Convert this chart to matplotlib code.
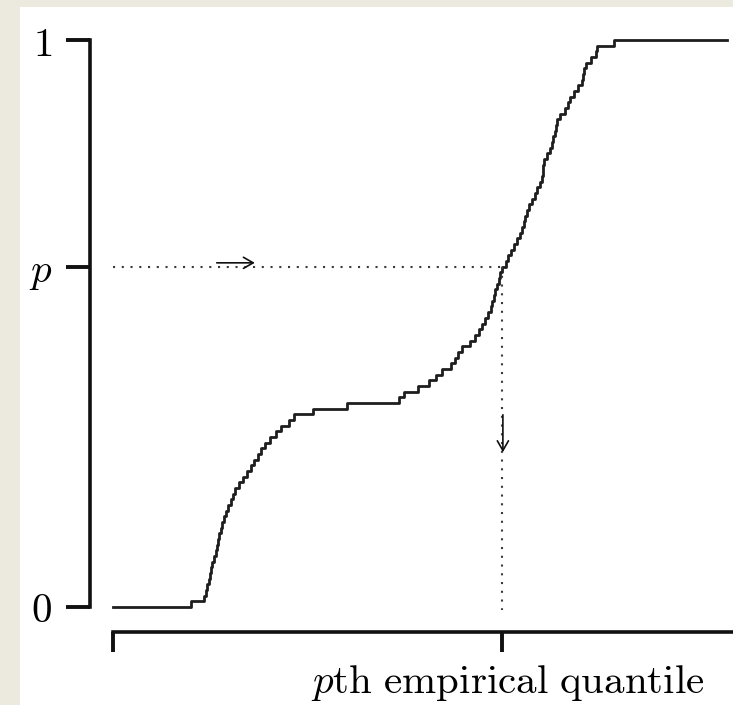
import numpy as np
import matplotlib
matplotlib.use("Agg")
import matplotlib.pyplot as plt
from matplotlib.patches import Rectangle

plt.rcParams["mathtext.fontset"] = "cm"

# Observed sample (arbitrary units, 0-100 scale)
sample = [
    12.7, 14.8, 15.1, 15.3, 15.6, 15.8, 16.0, 16.2, 16.4, 16.7,
    16.9, 17.1, 17.3, 17.6, 17.8, 18.1, 18.4, 18.8, 19.2, 19.5,
    19.9, 20.5, 21.2, 21.8, 22.5, 23.0, 23.6, 24.1, 24.8, 25.6,
    26.5, 27.4, 28.7, 29.5, 32.6, 38.1, 46.6, 47.4, 49.7, 51.5,
    52.6, 53.6, 55.0, 55.7, 56.2, 56.8, 58.1, 59.0, 59.6, 60.1,
    60.6, 61.1, 61.6, 61.8, 62.1, 62.2, 62.5, 62.9, 63.1, 63.4,
    64.0, 64.3, 64.8, 65.3, 65.8, 66.3, 66.6, 66.9, 67.1, 67.4,
    67.8, 68.2, 68.7, 69.1, 69.5, 69.9, 70.0, 70.1, 70.2, 70.7,
    71.2, 71.5, 71.7, 72.0, 72.1, 72.3, 72.8, 73.6, 74.1, 74.4,
    75.1, 75.7, 76.4, 76.5, 76.7, 77.0, 77.9, 78.7, 78.8, 81.6,
]
x_range = [0.0, 100.0]
p_level = 0.6
y_tick_labels = ["$0$", "$p$", "$1$"]
x_label = r"$p\mathrm{th\ empirical\ quantile}$"

# Empirical CDF
xs = np.sort(np.asarray(sample))
n = len(xs)
fx = np.arange(1, n + 1) / n
step_x = np.concatenate([[x_range[0]], xs, [x_range[1]]])
step_y = np.concatenate([[0.0], fx, [1.0]])
quantile = xs[int(np.ceil(p_level * n)) - 1]

W, H = 733, 705
fig = plt.figure(figsize=(W / 100, H / 100), dpi=100)
fig.patch.set_facecolor("#ECE9DF")
fig.add_artist(Rectangle((20 / W, 0), (W - 20) / W, (H - 7) / H,
                         transform=fig.transFigure, facecolor="white",
                         edgecolor="none", zorder=0))

ax = fig.add_axes([113 / W, (H - 607) / H, 620 / W, 567 / H])
ax.set_facecolor("none")
ax.set_xlim(0, 620 / 6.14)
ax.set_ylim(0, 1)

ax.step(step_x, step_y, where="post", color="#1e1e1e", lw=2.0, clip_on=False)

# Guide lines from p to the quantile
dot = (0, (1, 3.2))
ax.plot([0, quantile], [p_level, p_level], color="#3a3a3a", lw=1.5,
        linestyle=dot, clip_on=False)
ax.plot([quantile, quantile], [p_level, -0.005], color="#3a3a3a", lw=1.5,
        linestyle=dot, clip_on=False)

arrow = dict(arrowstyle="->,head_length=0.35,head_width=0.2", lw=1.2,
             color="#111111", shrinkA=0, shrinkB=0, mutation_scale=20)
ax.annotate("", xy=(23.1, 0.607), xytext=(16.9, 0.607), arrowprops=arrow,
            annotation_clip=False)
ax.annotate("", xy=(quantile + 0.1, 0.273), xytext=(quantile + 0.1, 0.339),
            arrowprops=arrow, annotation_clip=False)

for side in ("top", "right"):
    ax.spines[side].set_visible(False)
ax.spines["left"].set_position(("outward", 16.6))
ax.spines["left"].set_bounds(0, 1)
ax.spines["bottom"].set_position(("outward", 18))
ax.spines["bottom"].set_bounds(0, 620 / 6.14)
for side in ("left", "bottom"):
    ax.spines[side].set_linewidth(2.6)
    ax.spines[side].set_color("#111111")

ax.set_yticks([0, p_level, 1])
ax.set_yticklabels(y_tick_labels)
ax.set_xticks([0, quantile])
ax.set_xticklabels(["", ""])
ax.tick_params(axis="y", length=17.3, width=2.8, pad=10, labelsize=29.5,
               direction="out", color="#111111")
ax.tick_params(axis="x", length=14.4, width=2.8, direction="out",
               color="#111111")

fig.text(705 / W, (H - 693) / H, x_label, ha="right", va="baseline",
         fontsize=29.5)

fig.savefig("out.png", dpi=100, facecolor=fig.get_facecolor())
